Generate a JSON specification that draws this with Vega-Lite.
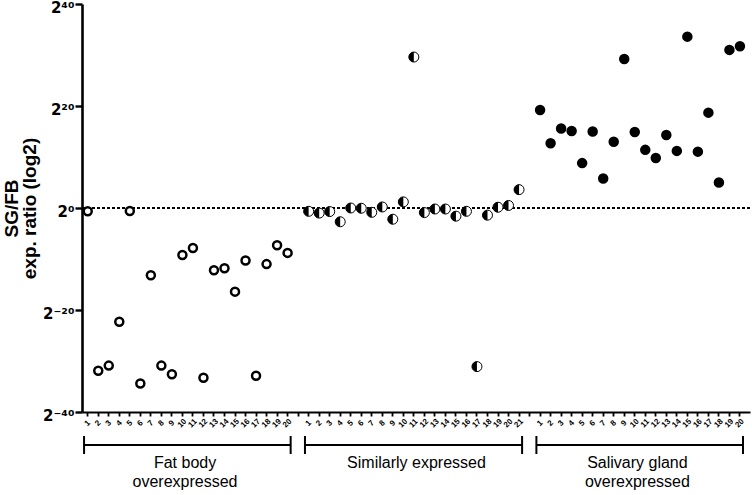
{
  "$schema": "https://vega.github.io/schema/vega-lite/v6.json",
  "padding": {"left": 2, "top": 0, "right": 0, "bottom": 0},
  "background": "white",
  "config": {
    "view": {"stroke": null},
    "font": "Liberation Sans",
    "concat": {"spacing": 6}
  },
  "datasets": {
    "points": [
      {"key": "F1", "group": "Fat body", "log2": -0.65},
      {"key": "F2", "group": "Fat body", "log2": -31.9},
      {"key": "F3", "group": "Fat body", "log2": -30.9},
      {"key": "F4", "group": "Fat body", "log2": -22.3},
      {"key": "F5", "group": "Fat body", "log2": -0.6},
      {"key": "F6", "group": "Fat body", "log2": -34.4},
      {"key": "F7", "group": "Fat body", "log2": -13.2},
      {"key": "F8", "group": "Fat body", "log2": -30.9},
      {"key": "F9", "group": "Fat body", "log2": -32.6},
      {"key": "F10", "group": "Fat body", "log2": -9.2},
      {"key": "F11", "group": "Fat body", "log2": -7.85},
      {"key": "F12", "group": "Fat body", "log2": -33.3},
      {"key": "F13", "group": "Fat body", "log2": -12.2},
      {"key": "F14", "group": "Fat body", "log2": -11.8},
      {"key": "F15", "group": "Fat body", "log2": -16.4},
      {"key": "F16", "group": "Fat body", "log2": -10.3},
      {"key": "F17", "group": "Fat body", "log2": -32.9},
      {"key": "F18", "group": "Fat body", "log2": -11.0},
      {"key": "F19", "group": "Fat body", "log2": -7.3},
      {"key": "F20", "group": "Fat body", "log2": -8.8},
      {"key": "S1", "group": "Similar", "log2": -0.65},
      {"key": "S2", "group": "Similar", "log2": -1.0},
      {"key": "S3", "group": "Similar", "log2": -0.7},
      {"key": "S4", "group": "Similar", "log2": -2.7},
      {"key": "S5", "group": "Similar", "log2": 0.0},
      {"key": "S6", "group": "Similar", "log2": -0.05},
      {"key": "S7", "group": "Similar", "log2": -0.85},
      {"key": "S8", "group": "Similar", "log2": 0.2},
      {"key": "S9", "group": "Similar", "log2": -2.2},
      {"key": "S10", "group": "Similar", "log2": 1.2},
      {"key": "S11", "group": "Similar", "log2": 29.6},
      {"key": "S12", "group": "Similar", "log2": -0.9},
      {"key": "S13", "group": "Similar", "log2": -0.2},
      {"key": "S14", "group": "Similar", "log2": -0.2},
      {"key": "S15", "group": "Similar", "log2": -1.6},
      {"key": "S16", "group": "Similar", "log2": -0.65},
      {"key": "S17", "group": "Similar", "log2": -31.1},
      {"key": "S18", "group": "Similar", "log2": -1.4},
      {"key": "S19", "group": "Similar", "log2": 0.15},
      {"key": "S20", "group": "Similar", "log2": 0.5},
      {"key": "S21", "group": "Similar", "log2": 3.6},
      {"key": "G1", "group": "Salivary gland", "log2": 19.2},
      {"key": "G2", "group": "Salivary gland", "log2": 12.7},
      {"key": "G3", "group": "Salivary gland", "log2": 15.6},
      {"key": "G4", "group": "Salivary gland", "log2": 15.1},
      {"key": "G5", "group": "Salivary gland", "log2": 8.8},
      {"key": "G6", "group": "Salivary gland", "log2": 15.0},
      {"key": "G7", "group": "Salivary gland", "log2": 5.8},
      {"key": "G8", "group": "Salivary gland", "log2": 13.0},
      {"key": "G9", "group": "Salivary gland", "log2": 29.2},
      {"key": "G10", "group": "Salivary gland", "log2": 14.9},
      {"key": "G11", "group": "Salivary gland", "log2": 11.4},
      {"key": "G12", "group": "Salivary gland", "log2": 9.8},
      {"key": "G13", "group": "Salivary gland", "log2": 14.3},
      {"key": "G14", "group": "Salivary gland", "log2": 11.2},
      {"key": "G15", "group": "Salivary gland", "log2": 33.6},
      {"key": "G16", "group": "Salivary gland", "log2": 11.05},
      {"key": "G17", "group": "Salivary gland", "log2": 18.7},
      {"key": "G18", "group": "Salivary gland", "log2": 5.0},
      {"key": "G19", "group": "Salivary gland", "log2": 31.0},
      {"key": "G20", "group": "Salivary gland", "log2": 31.7}
    ],
    "brackets": [
      {"first": "F1", "last": "F20", "mid": "F10", "label": "Fat body\noverexpressed"},
      {"first": "S1", "last": "S21", "mid": "S11", "label": "Similarly expressed"},
      {"first": "G1", "last": "G20", "mid": "G10", "label": "Salivary gland\noverexpressed"}
    ]
  },
  "resolve": {"scale": {"x": "shared"}},
  "vconcat": [
    {
      "width": 668,
      "height": 408,
      "data": {"name": "points"},
      "encoding": {
        "x": {
          "field": "key",
          "type": "ordinal",
          "sort": null,
          "scale": {
            "type": "band",
            "domain": ["F1","F2","F3","F4","F5","F6","F7","F8","F9","F10","F11","F12","F13","F14","F15","F16","F17","F18","F19","F20","gap1","S1","S2","S3","S4","S5","S6","S7","S8","S9","S10","S11","S12","S13","S14","S15","S16","S17","S18","S19","S20","S21","gap2","G1","G2","G3","G4","G5","G6","G7","G8","G9","G10","G11","G12","G13","G14","G15","G16","G17","G18","G19","G20"],
            "paddingInner": 0,
            "paddingOuter": 0.25,
            "align": 0.09
          },
          "axis": {
            "title": null,
            "domainWidth": 2.2,
            "domainColor": "black",
            "tickColor": "black",
            "tickWidth": 1.8,
            "tickSize": 4,
            "labelAngle": -45,
            "labelAlign": "center",
            "labelBaseline": "middle",
            "labelPadding": 7,
            "labelFontSize": 8,
            "labelFontWeight": "bold",
            "labelColor": "black",
            "labelFont": "Liberation Sans",
            "labelExpr": "indexof(datum.value, 'gap') == 0 ? '' : substring(datum.value, 1)"
          }
        },
        "y": {
          "field": "log2",
          "type": "quantitative",
          "scale": {"domain": [-40, 40], "nice": false, "zero": false},
          "axis": {
            "title": ["SG/FB", "exp. ratio (log2)"],
            "titleFontSize": 19,
            "titleFontWeight": "bold",
            "titleColor": "black",
            "titleLineHeight": 18,
            "titlePadding": 3,
            "titleFont": "Liberation Sans",
            "values": [-40, -20, 0, 20, 40],
            "grid": false,
            "domainWidth": 2.6,
            "domainColor": "black",
            "tickColor": "black",
            "tickWidth": 2.4,
            "tickSize": 7,
            "labelPadding": 1,
            "labelOffset": 3,
            "labelFontSize": 15,
            "labelFontWeight": "bold",
            "labelColor": "black",
            "labelFont": "DejaVu Sans",
            "labelExpr": "'2' + (datum.value == 40 ? '⁴⁰' : datum.value == 20 ? '²⁰' : datum.value == 0 ? '⁰' : datum.value == -20 ? '⁻²⁰' : '⁻⁴⁰')"
          }
        }
      },
      "layer": [
        {
          "mark": {"type": "rule", "color": "black", "strokeWidth": 1.5, "strokeDash": [3, 2]},
          "encoding": {"x": null, "y": {"datum": 0}}
        },
        {
          "transform": [{"filter": "datum.group != 'Similar'"}],
          "mark": {"type": "point", "shape": "circle", "filled": true, "size": 64, "stroke": "black", "strokeWidth": 2.5, "opacity": 1},
          "encoding": {
            "fill": {
              "field": "group",
              "type": "nominal",
              "scale": {"domain": ["Fat body", "Salivary gland"], "range": ["white", "black"]},
              "legend": null
            }
          }
        },
        {
          "transform": [{"filter": "datum.group == 'Similar'"}],
          "mark": {"type": "point", "shape": "circle", "filled": true, "size": 100, "fill": "white", "stroke": "black", "strokeWidth": 1, "opacity": 1}
        },
        {
          "transform": [{"filter": "datum.group == 'Similar'"}],
          "mark": {"type": "point", "shape": "M0,-1 A1,1 0 0,0 0,1 Z", "filled": true, "size": 100, "fill": "black", "strokeWidth": 0, "opacity": 1}
        }
      ]
    },
    {
      "width": 668,
      "height": 54,
      "data": {"name": "brackets"},
      "layer": [
        {
          "mark": {"type": "rule", "color": "black", "strokeWidth": 2},
          "encoding": {
            "x": {"field": "first", "type": "ordinal", "bandPosition": 0.15, "axis": null},
            "x2": {"field": "last", "bandPosition": 0.79},
            "y": {"datum": 1, "type": "quantitative", "scale": {"domain": [0, 6], "reverse": true, "nice": false}, "axis": null}
          }
        },
        {
          "mark": {"type": "rule", "color": "black", "strokeWidth": 2},
          "encoding": {
            "x": {"field": "first", "type": "ordinal", "bandPosition": 0.15, "axis": null},
            "y": {"datum": 0, "type": "quantitative", "axis": null},
            "y2": {"datum": 2}
          }
        },
        {
          "mark": {"type": "rule", "color": "black", "strokeWidth": 2},
          "encoding": {
            "x": {"field": "last", "type": "ordinal", "bandPosition": 0.79, "axis": null},
            "y": {"datum": 0, "type": "quantitative", "axis": null},
            "y2": {"datum": 2}
          }
        },
        {
          "mark": {"type": "text", "fontSize": 16, "lineBreak": "\n", "lineHeight": 19, "baseline": "top", "align": "center", "color": "black", "font": "Liberation Sans"},
          "encoding": {
            "x": {"field": "mid", "type": "ordinal", "bandPosition": 0.75, "axis": null},
            "y": {"datum": 2.1, "type": "quantitative", "axis": null},
            "text": {"field": "label"}
          }
        }
      ]
    }
  ]
}
